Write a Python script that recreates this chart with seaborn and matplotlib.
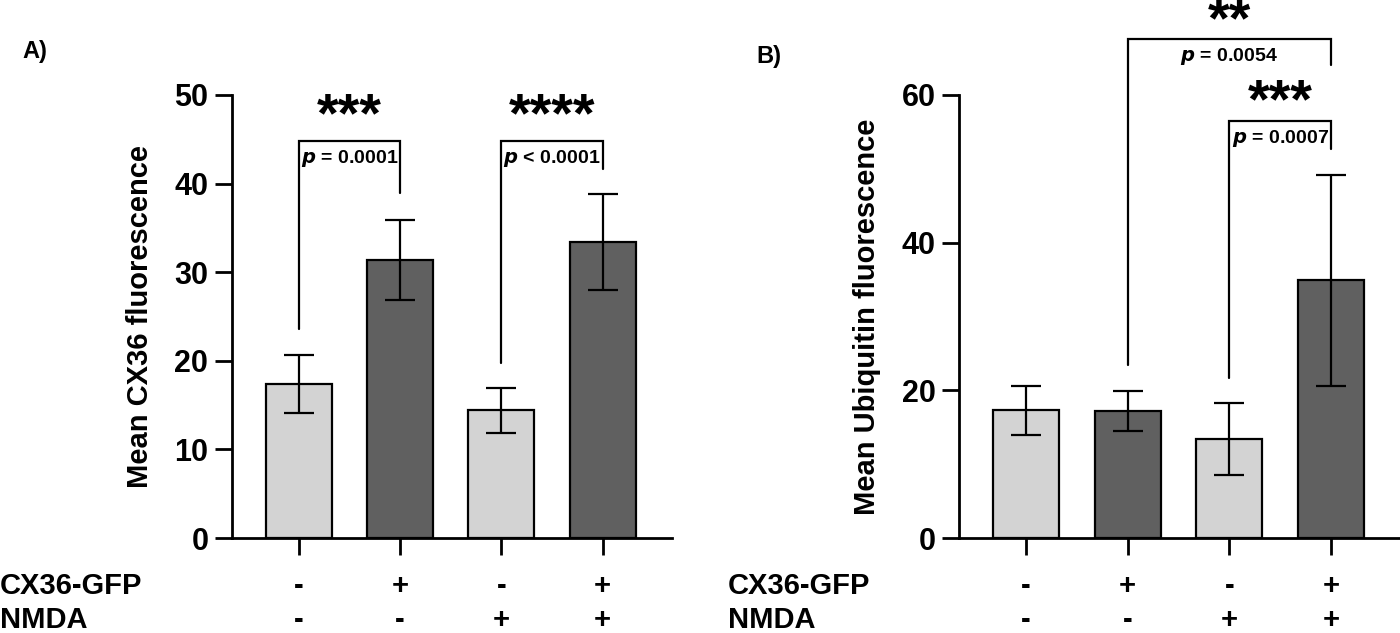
import matplotlib
matplotlib.use("Agg")
import matplotlib.pyplot as plt
import matplotlib.transforms as mtransforms
import seaborn as sns
import pandas as pd

# groups (order of bars)
groups = ["ctrl", "CX36-GFP", "NMDA", "CX36-GFP+NMDA"]
cx36_row = ["-", "+", "-", "+"]
nmda_row = ["-", "-", "+", "+"]

# panel A: CX36 fluorescence (mean, SD)
cx36_mean = [17.4, 31.4, 14.4, 33.4]
cx36_sd = [3.3, 4.5, 2.5, 5.4]

# panel B: ubiquitin fluorescence (mean, SD)
ubq_mean = [17.3, 17.2, 13.4, 34.9]
ubq_sd = [3.3, 2.7, 4.9, 14.3]

light = "#d3d3d3"
dark = "#606060"
palette = [light, dark, light, dark]

sns.set_style("ticks")
plt.rcParams["font.family"] = ["Liberation Sans", "DejaVu Sans"]
plt.rcParams["font.weight"] = "bold"
plt.rcParams["text.color"] = "black"
plt.rcParams["axes.labelcolor"] = "black"
plt.rcParams["axes.edgecolor"] = "black"
plt.rcParams["xtick.color"] = "black"
plt.rcParams["ytick.color"] = "black"

fig = plt.figure(figsize=(14, 6.33), dpi=100)
axA = fig.add_axes([0.1657, 0.150, 0.314, 0.700])
axB = fig.add_axes([0.685, 0.150, 0.315, 0.700])


def draw_panel(ax, means, sds, ymax, yticks, ylabel):
    df = pd.DataFrame({"group": groups, "value": means})
    sns.barplot(data=df, x="group", y="value", hue="group", palette=palette,
                legend=False, width=0.65, edgecolor="black", linewidth=1.6,
                errorbar=None, ax=ax)
    ax.errorbar(range(len(groups)), means, yerr=sds, fmt="none", ecolor="black",
                elinewidth=1.6, capsize=11, capthick=1.6, zorder=5)
    ax.set_xlim(-0.66, 3.68)
    ax.set_ylim(0, ymax)
    ax.set_yticks(yticks)
    ax.set_xticklabels([])
    ax.set_xlabel("")
    ax.set_ylabel(ylabel, fontsize=21, fontweight="bold", color="black")
    ax.yaxis.set_label_coords(-0.177, 0.5)
    sns.despine(ax=ax)
    for s in ["left", "bottom"]:
        ax.spines[s].set_linewidth(2)
        ax.spines[s].set_color("black")
    ax.tick_params(axis="both", length=12, width=2, labelsize=22, pad=5,
                   colors="black")
    for t in ax.get_yticklabels():
        t.set_fontweight("bold")
    # +/- rows under the bars
    tr = mtransforms.blended_transform_factory(ax.transData, fig.transFigure)
    for i in range(len(groups)):
        ax.text(i, 0.062, cx36_row[i], transform=tr, ha="center", va="baseline",
                fontsize=21, fontweight="bold")
        ax.text(i, 0.008, nmda_row[i], transform=tr, ha="center", va="baseline",
                fontsize=21, fontweight="bold")


def bracket(ax, x1, x2, y1, y2, top, ptext, stars, star_y):
    ax.plot([x1, x1, x2, x2], [y1, top, top, y2], color="black", lw=1.6,
            clip_on=False, solid_joinstyle="miter")
    xm = (x1 + x2) / 2
    ax.text(xm, top - 0.8 * (ax.get_ylim()[1] / 50), ptext, ha="center", va="top",
            fontsize=14, fontweight="bold", clip_on=False)
    ax.text(xm, star_y, stars, ha="center", va="baseline", fontsize=40,
            fontweight="bold", clip_on=False)


draw_panel(axA, cx36_mean, cx36_sd, 50, [0, 10, 20, 30, 40, 50],
           "Mean CX36 fluorescence")
draw_panel(axB, ubq_mean, ubq_sd, 60, [0, 20, 40, 60],
           "Mean Ubiquitin fluorescence")

bracket(axA, 0, 1, 23.6, 38.9, 44.8, r"$\boldsymbol{p}$ = 0.0001", "***", 45.9)
bracket(axA, 2, 3, 19.8, 41.7, 44.8, r"$\boldsymbol{p}$ < 0.0001", "****", 45.9)
bracket(axB, 1, 3, 23.5, 64.0, 67.6, r"$\boldsymbol{p}$ = 0.0054", "**", 67.9)
bracket(axB, 2, 3, 21.7, 52.7, 56.5, r"$\boldsymbol{p}$ = 0.0007", "***", 57.0)

# row labels and panel letters
for x0 in [0.0, 0.52]:
    fig.text(x0, 0.062, "CX36-GFP", ha="left", va="baseline", fontsize=21,
             fontweight="bold")
    fig.text(x0, 0.008, "NMDA", ha="left", va="baseline", fontsize=21,
             fontweight="bold")
fig.text(0.016, 0.918, "A)", ha="left", va="center", fontsize=17, fontweight="bold")
fig.text(0.540, 0.911, "B)", ha="left", va="center", fontsize=17, fontweight="bold")

fig.savefig("out.png", dpi=100)
